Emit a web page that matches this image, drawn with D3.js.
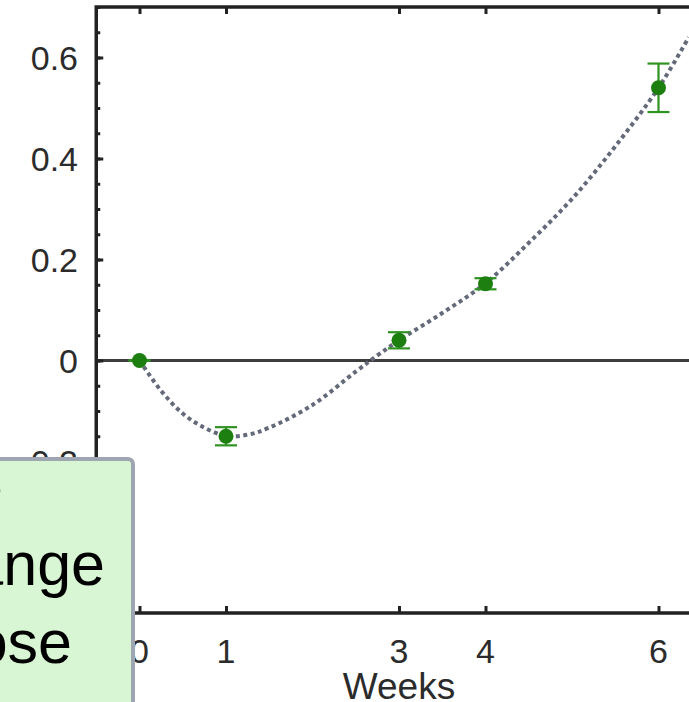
<!DOCTYPE html>
<html>
<head>
<meta charset="utf-8">
<script src="https://cdn.jsdelivr.net/npm/d3@7/dist/d3.min.js"></script>
<style>
  body { margin: 0; background: #fff; }
  svg { display: block; font-family: "Liberation Sans", Arial, sans-serif; }
</style>
</head>
<body>
<div id="chart"></div>
<script>
var w = 689, h = 702;

// measured points (weeks, value, error)
var weeks = [0, 1, 3, 4, 6];
var values = [0, -0.150, 0.040, 0.152, 0.540];
var errors = [0, 0.018, 0.016, 0.011, 0.048];

// fitted curve
var fitX = [0, 0.25, 0.5, 0.75, 1.0, 1.25, 1.5, 2.0, 2.5, 2.75, 3.0, 3.5, 4.0, 4.5, 5.0, 5.5, 6.0, 6.35];
var fitY = [0, -0.06, -0.105, -0.133, -0.149, -0.147, -0.133, -0.088, -0.022, 0.010, 0.040, 0.094, 0.153, 0.233, 0.320, 0.424, 0.540, 0.640];

var xTicks = [0, 1, 3, 4, 6];
var yTicks = [-0.4, -0.2, 0, 0.2, 0.4, 0.6];
var xLabel = "Weeks";
var boxLines = ["Relative", "Change", "Dose"];

var svg = d3.select("#chart").append("svg")
  .attr("width", w)
  .attr("height", h);

var xScale = d3.scaleLinear()
  .domain([-0.5, 6.5])
  .range([96.25, 701.75]);

var yScale = d3.scaleLinear()
  .domain([-0.5, 0.7])
  .range([613, 7]);

var axisColor = "#222";

// zero line
svg.append("line")
  .attr("x1", xScale(-0.5)).attr("x2", xScale(6.5))
  .attr("y1", yScale(0)).attr("y2", yScale(0))
  .attr("stroke", "#3d3d3d")
  .attr("stroke-width", 3);

// left axis: minor ticks then major ticks with labels
var yMinor = d3.axisRight(yScale)
  .tickValues(yScale.ticks(24))
  .tickSize(4)
  .tickFormat("");

var yMajor = d3.axisRight(yScale)
  .tickValues(yTicks)
  .tickSize(7)
  .tickFormat("");

svg.append("g")
  .attr("transform", "translate(" + xScale(-0.5) + ",0)")
  .call(yMinor)
  .call(function(g) { g.select(".domain").remove(); })
  .selectAll("line").attr("stroke", axisColor).attr("stroke-width", 3);

svg.append("g")
  .attr("transform", "translate(" + xScale(-0.5) + ",0)")
  .call(yMajor)
  .call(function(g) { g.select(".domain").remove(); })
  .selectAll("line").attr("stroke", axisColor).attr("stroke-width", 3);

svg.selectAll(".ylab")
  .data(yTicks)
  .enter()
  .append("text")
  .attr("class", "ylab")
  .text(function(d) { return String(d); })
  .attr("x", 78)
  .attr("y", function(d) { return yScale(d); })
  .attr("dy", "0.36em")
  .attr("text-anchor", "end")
  .attr("font-size", "34px")
  .attr("fill", "#2b2b2b");

// bottom axis
var xAxis = d3.axisTop(xScale)
  .tickValues(xTicks)
  .tickSize(7)
  .tickFormat("");

svg.append("g")
  .attr("transform", "translate(0," + yScale(-0.5) + ")")
  .call(xAxis)
  .call(function(g) { g.select(".domain").remove(); })
  .selectAll("line").attr("stroke", axisColor).attr("stroke-width", 3);

// top axis
var xTop = d3.axisBottom(xScale)
  .tickValues(xTicks)
  .tickSize(7)
  .tickFormat("");

svg.append("g")
  .attr("transform", "translate(0," + yScale(0.7) + ")")
  .call(xTop)
  .call(function(g) { g.select(".domain").remove(); })
  .selectAll("line").attr("stroke", axisColor).attr("stroke-width", 3);

svg.selectAll(".xlab")
  .data(xTicks)
  .enter()
  .append("text")
  .attr("class", "xlab")
  .text(function(d) { return d; })
  .attr("x", function(d) { return xScale(d); })
  .attr("y", 663)
  .attr("text-anchor", "middle")
  .attr("font-size", "34px")
  .attr("fill", "#2b2b2b");

svg.append("text")
  .text(xLabel)
  .attr("x", xScale(3))
  .attr("y", 699)
  .attr("text-anchor", "middle")
  .attr("font-size", "37px")
  .attr("fill", "#2b2b2b");

// frame
svg.append("rect")
  .attr("x", xScale(-0.5))
  .attr("y", yScale(0.7))
  .attr("width", xScale(6.5) - xScale(-0.5))
  .attr("height", yScale(-0.5) - yScale(0.7))
  .attr("fill", "none")
  .attr("stroke", axisColor)
  .attr("stroke-width", 3.5);

// fitted curve
var fitData = fitX.map(function(x, i) { return [x, fitY[i]]; });

var line = d3.line()
  .x(function(d) { return xScale(d[0]); })
  .y(function(d) { return yScale(d[1]); })
  .curve(d3.curveCatmullRom);

svg.append("path")
  .datum(fitData)
  .attr("d", line)
  .attr("fill", "none")
  .attr("stroke", "#646a7a")
  .attr("stroke-width", 4)
  .attr("stroke-dasharray", "4,3.5");

// error bars
var pts = weeks.map(function(wk, i) { return { x: wk, y: values[i], e: errors[i] }; });
var green = "#1c7f10";
var capW = 11;

var eb = svg.selectAll(".eb")
  .data(pts)
  .enter()
  .append("g")
  .attr("class", "eb")
  .attr("stroke", "#2f9322")
  .attr("stroke-width", 2.2);

eb.append("line")
  .attr("x1", function(d) { return xScale(d.x); })
  .attr("x2", function(d) { return xScale(d.x); })
  .attr("y1", function(d) { return yScale(d.y - d.e); })
  .attr("y2", function(d) { return yScale(d.y + d.e); });

eb.append("line")
  .attr("x1", function(d) { return xScale(d.x) - capW; })
  .attr("x2", function(d) { return xScale(d.x) + capW; })
  .attr("y1", function(d) { return yScale(d.y + d.e); })
  .attr("y2", function(d) { return yScale(d.y + d.e); });

eb.append("line")
  .attr("x1", function(d) { return xScale(d.x) - capW; })
  .attr("x2", function(d) { return xScale(d.x) + capW; })
  .attr("y1", function(d) { return yScale(d.y - d.e); })
  .attr("y2", function(d) { return yScale(d.y - d.e); });

svg.selectAll("circle")
  .data(pts)
  .enter()
  .append("circle")
  .attr("cx", function(d) { return xScale(d.x); })
  .attr("cy", function(d) { return yScale(d.y); })
  .attr("r", 7.5)
  .attr("fill", green);

// overlapping annotation box at lower left
var box = svg.append("g");

box.append("rect")
  .attr("x", -20)
  .attr("y", 459)
  .attr("width", 153)
  .attr("height", 270)
  .attr("rx", 5)
  .attr("fill", "#d9f6d4")
  .attr("stroke", "#9ea6b2")
  .attr("stroke-width", 4);

var lineEnds = [3, 105, 72];
box.selectAll("text")
  .data(boxLines)
  .enter()
  .append("text")
  .text(function(d) { return d; })
  .attr("x", function(d, i) { return lineEnds[i]; })
  .attr("y", function(d, i) { return 507 + i * 78; })
  .attr("text-anchor", "end")
  .attr("font-size", "61px")
  .attr("fill", "#000");
</script>
</body>
</html>
